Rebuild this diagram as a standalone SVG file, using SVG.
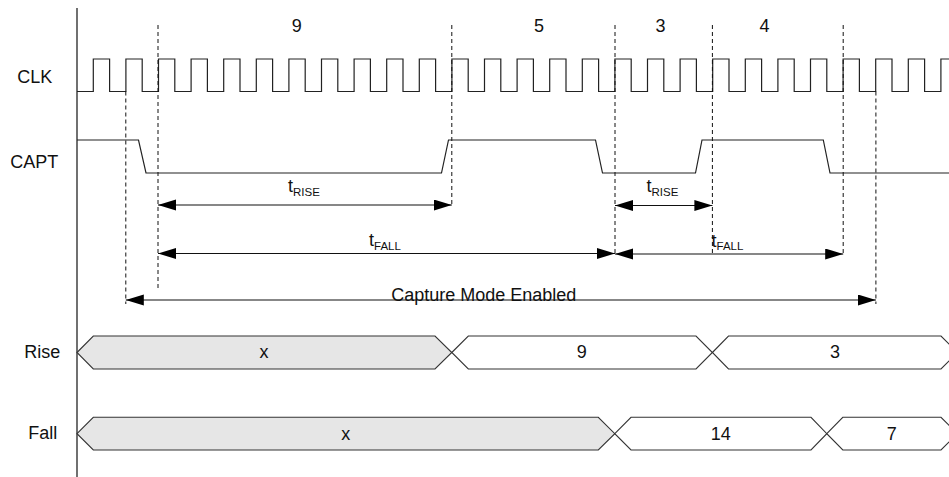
<svg xmlns="http://www.w3.org/2000/svg" width="949" height="477" viewBox="0 0 949 477">
<style>
text{font-family:"Liberation Sans",Arial,sans-serif;font-size:18px;fill:#111}
.lbl{text-anchor:middle}
.sub{font-size:11.5px}
.wave{fill:none;stroke:#222;stroke-width:1.2}
.dash{fill:none;stroke:#111;stroke-width:1;stroke-dasharray:4 3}
.arr{fill:none;stroke:#111;stroke-width:1.2;marker-start:url(#ah);marker-end:url(#ah)}
.busx{fill:#e6e6e6;stroke:#333;stroke-width:1.1}
.busv{fill:#fff;stroke:#333;stroke-width:1.1}
</style>
<defs>
<marker id="ah" markerUnits="userSpaceOnUse" markerWidth="19" markerHeight="12" refX="18" refY="5.5" orient="auto-start-reverse">
<path d="M0,0 L18,5.5 L0,11 z" fill="#000"/>
</marker>
</defs>
<rect width="949" height="477" fill="#fff"/>
<g id="axis">
<line x1="77" y1="8" x2="77" y2="477" stroke="#111" stroke-width="1.2"/>
</g>
<g id="signal-labels">
<text class="lbl" x="34.8" y="83">CLK</text>
<text class="lbl" x="34.3" y="168">CAPT</text>
<text class="lbl" x="42.2" y="358">Rise</text>
<text class="lbl" x="42.8" y="439">Fall</text>
</g>
<g id="count-labels">
<text class="lbl" x="296.7" y="32">9</text>
<text class="lbl" x="539" y="32">5</text>
<text class="lbl" x="660.5" y="32">3</text>
<text class="lbl" x="764.5" y="32">4</text>
</g>
<g id="clk">
<path class="wave" d="M77,91.5 H93.3 V59 H109.6 V91.5 H125.9 V59 H142.2 V91.5 H158.5 V59 H174.8 V91.5 H191.1 V59 H207.4 V91.5 H223.7 V59 H240 V91.5 H256.3 V59 H272.6 V91.5 H288.9 V59 H305.2 V91.5 H321.5 V59 H337.8 V91.5 H354.1 V59 H370.4 V91.5 H386.7 V59 H403 V91.5 H419.3 V59 H435.6 V91.5 H451.9 V59 H468.2 V91.5 H484.5 V59 H500.8 V91.5 H517.1 V59 H533.4 V91.5 H549.7 V59 H566 V91.5 H582.3 V59 H598.6 V91.5 H614.9 V59 H631.2 V91.5 H647.5 V59 H663.8 V91.5 H680.1 V59 H696.4 V91.5 H712.7 V59 H729 V91.5 H745.3 V59 H761.6 V91.5 H777.9 V59 H794.2 V91.5 H810.5 V59 H826.8 V91.5 H843.1 V59 H859.4 V91.5 H875.7 V59 H892 V91.5 H908.3 V59 H924.6 V91.5 H940.9 V59 H949"/>
</g>
<g id="capt">
<path class="wave" d="M77,140 H138.5 L146,173 H441.5 L448.5,140 H595.5 L602.5,173 H695.5 L702,140 H823.3 L830,173 H949"/>
</g>
<g id="guides">
<line class="dash" x1="125.8" y1="91.5" x2="125.8" y2="304"/>
<line class="dash" x1="158" y1="25" x2="158" y2="288"/>
<line class="dash" x1="451.8" y1="25" x2="451.8" y2="205"/>
<line class="dash" x1="615" y1="25" x2="615" y2="254"/>
<line class="dash" x1="712.4" y1="25" x2="712.4" y2="254"/>
<line class="dash" x1="843.2" y1="25" x2="843.2" y2="254"/>
<line class="dash" x1="875.9" y1="91.5" x2="875.9" y2="304"/>
</g>
<g id="connectors">
<line class="arr" x1="158" y1="205" x2="451.8" y2="205"/>
<line class="arr" x1="158" y1="253.5" x2="615" y2="253.5"/>
<line class="arr" x1="615" y1="205.5" x2="712.4" y2="205.5"/>
<line class="arr" x1="615" y1="254" x2="843.2" y2="254"/>
<line class="arr" x1="125.8" y1="300" x2="875.9" y2="300"/>
</g>
<g id="timing-labels">
<text x="288" y="191.5">t<tspan class="sub" dy="4">RISE</tspan></text>
<text x="369" y="246">t<tspan class="sub" dy="3.5">FALL</tspan></text>
<text x="646.5" y="191.5">t<tspan class="sub" dy="4">RISE</tspan></text>
<text x="711.5" y="246.5">t<tspan class="sub" dy="3.5">FALL</tspan></text>
<text class="lbl" x="483.8" y="300.5">Capture Mode Enabled</text>
</g>
<g id="rise-bus">
<polygon class="busx" points="77,352.5 93.3,336 435,336 451.8,352.5 435,369 93.3,369"/>
<polygon class="busv" points="451.8,352.5 468.3,336 696,336 712.4,352.5 696,369 468.3,369"/>
<polygon class="busv" points="712.4,352.5 728.5,336 941,336 957.5,352.5 941,369 728.5,369"/>
<text class="lbl" x="264" y="358">x</text>
<text class="lbl" x="581.7" y="358">9</text>
<text class="lbl" x="835" y="358">3</text>
</g>
<g id="fall-bus">
<polygon class="busx" points="77,433.7 93.3,417.3 598.3,417.3 614.8,433.7 598.3,450 93.3,450"/>
<polygon class="busv" points="614.8,433.7 631,417.3 811,417.3 826.8,433.7 811,450 631,450"/>
<polygon class="busv" points="826.8,433.7 842.8,417.3 941,417.3 957.5,433.7 941,450 842.8,450"/>
<text class="lbl" x="345.7" y="439.5">x</text>
<text class="lbl" x="720.7" y="439.5">14</text>
<text class="lbl" x="891.7" y="439.5">7</text>
</g>
</svg>
